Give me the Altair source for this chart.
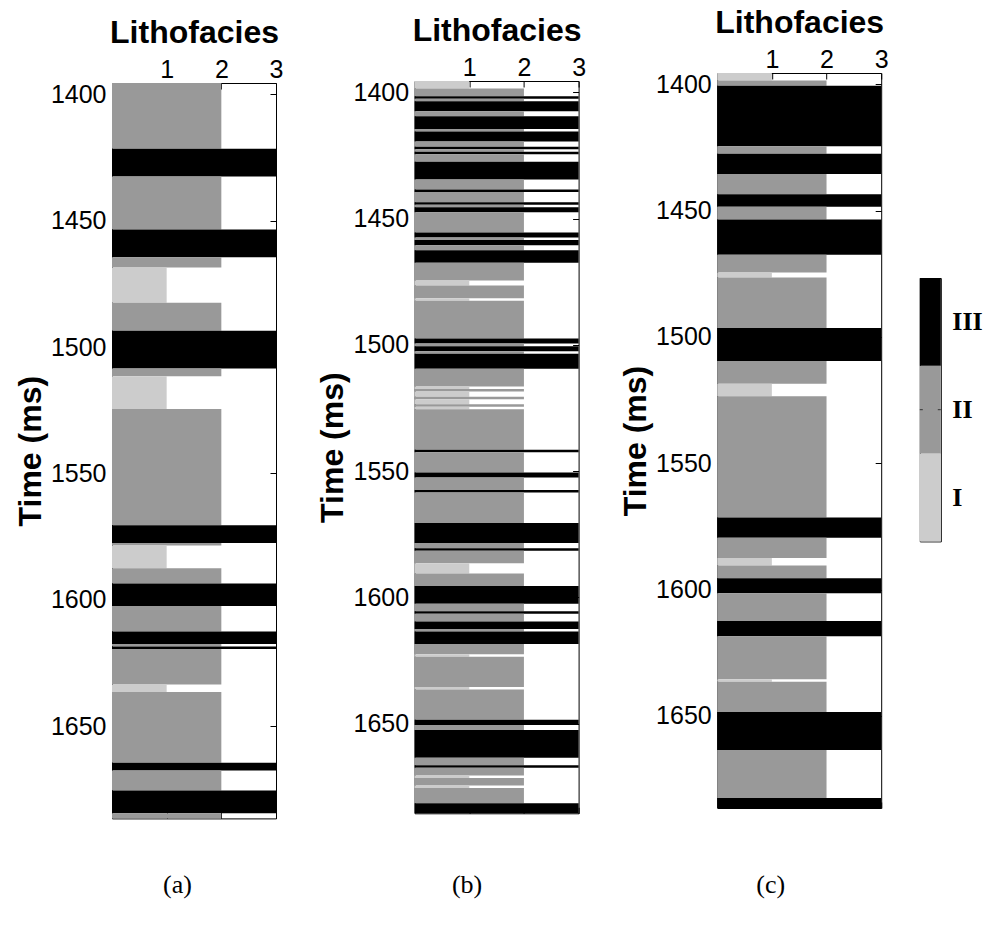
import altair as alt
import pandas as pd

SANS = "Liberation Sans"
SERIF = "Liberation Serif"

# Facies classes and their grey levels
FACIES = [1, 2, 3]
FACIES_NAMES = ["I", "II", "III"]
FACIES_COLORS = ["#cccccc", "#999999", "#000000"]
TIME_TICKS = [1400, 1450, 1500, 1550, 1600, 1650]
FACIES_TICKS = [1, 2, 3]

# Log (a): top of each facies run (ms), facies of the run, base of the log
a_tops = [1395.5, 1421.5, 1432.5, 1453.5, 1464.5, 1468.5, 1482.5, 1493.5, 1508.5,
          1511.5, 1524.5, 1570.5, 1577.5, 1578.5, 1587.5, 1593.5, 1602.5, 1612.5,
          1617.5, 1618.5, 1619.5, 1633.5, 1636.5, 1664.5, 1667.5, 1675.5, 1684.5]
a_facies = [2, 3, 2, 3, 2, 1, 2, 3, 2,
            1, 2, 3, 2, 1, 2, 3, 2, 3,
            2, 3, 2, 1, 2, 3, 2, 3, 2]
a_base = 1686.5

# Log (b)
b_tops = [1395.5, 1398.5, 1401.5, 1402.5, 1403.5, 1407.5, 1409.5, 1414.5, 1415.5,
          1419.5, 1421.5, 1422.5, 1423.5, 1424.5, 1427.5, 1434.5, 1438.5, 1439.5,
          1443.5, 1444.5, 1445.5, 1447.5, 1455.5, 1457.5, 1458.5, 1460.5, 1462.5,
          1467.5, 1474.5, 1476.5, 1481.5, 1482.5, 1497.5, 1499.5, 1500.5, 1502.5,
          1503.5, 1509.5, 1516.5, 1517.5, 1518.5, 1520.5, 1521.5, 1523.5, 1524.5,
          1525.5, 1541.5, 1542.5, 1550.5, 1552.5, 1557.5, 1558.5, 1570.5, 1578.5,
          1580.5, 1581.5, 1586.5, 1590.5, 1595.5, 1602.5, 1605.5, 1606.5, 1609.5,
          1612.5, 1613.5, 1618.5, 1622.5, 1623.5, 1635.5, 1636.5, 1648.5, 1650.5,
          1652.5, 1663.5, 1666.5, 1667.5, 1670.5, 1671.5, 1674.5, 1675.5, 1681.5]
b_facies = [1, 2, 3, 2, 3, 2, 3, 2, 3,
            2, 3, 2, 3, 2, 3, 2, 3, 2,
            3, 2, 3, 2, 3, 2, 3, 2, 3,
            2, 1, 2, 1, 2, 3, 2, 3, 2,
            3, 2, 1, 2, 1, 2, 1, 2, 1,
            2, 3, 2, 3, 2, 3, 2, 3, 2,
            3, 2, 1, 2, 3, 2, 3, 2, 3,
            2, 3, 2, 1, 2, 1, 2, 3, 2,
            3, 2, 3, 2, 1, 2, 1, 2, 3]
b_base = 1685.5

# Log (c)
c_tops = [1395.5, 1398.5, 1400.5, 1424.5, 1427.5, 1435.5, 1443.5, 1448.5, 1453.5,
          1467.5, 1474.5, 1476.5, 1496.5, 1509.5, 1518.5, 1523.5, 1571.5, 1579.5,
          1587.5, 1590.5, 1595.5, 1601.5, 1612.5, 1618.5, 1635.5, 1636.5, 1648.5,
          1663.5, 1682.5]
c_facies = [1, 2, 3, 2, 3, 2, 3, 2, 3,
            2, 1, 2, 3, 2, 1, 2, 3, 2,
            1, 2, 3, 2, 3, 2, 1, 2, 3,
            2, 3]
c_base = 1686.5

CAPTIONS = ["(a)", "(b)", "(c)"]


def log_runs(tops, facies, base):
    """One row per facies run, from its top to the top of the next run."""
    edges = list(tops) + [base]
    return pd.DataFrame({
        "t0": edges[:-1],
        "t1": edges[1:],
        "zero": [0] * len(facies),
        "f": facies,
    })


facies_color = alt.Color(
    "f:N",
    scale=alt.Scale(domain=FACIES, range=FACIES_COLORS),
    legend=None,
)


def log_panel(df, base, height, caption, cap_x, cap_y):
    y_scale = alt.Scale(domain=[1395.5, base], reverse=True, nice=False, zero=False)
    x_scale = alt.Scale(domain=[0, 3], nice=False, zero=False)

    bars = alt.Chart(df).mark_rect().encode(
        x=alt.X("zero:Q", scale=x_scale, axis=alt.Axis(
            orient="top", values=FACIES_TICKS, format="d", offset=-6, tickSize=6,
            tickColor="black", domain=False, grid=False,
            labelFont=SANS, labelFontSize=25, labelColor="black", labelPadding=1,
            labelFlush=False, labelOverlap=False,
            title="Lithofacies", titleFont=SANS, titleFontSize=32,
            titleFontWeight="bold", titleColor="black", titlePadding=8, zindex=0)),
        x2="f:Q",
        y=alt.Y("t0:Q", scale=y_scale, axis=alt.Axis(
            orient="left", values=TIME_TICKS, format="d", offset=-6, tickSize=6,
            tickColor="black", domain=False, grid=False,
            labelFont=SANS, labelFontSize=25, labelColor="black", labelPadding=6,
            labelFlush=False, labelOverlap=False,
            title="Time (ms)", titleFont=SANS, titleFontSize=32,
            titleFontWeight="bold", titleColor="black", titlePadding=3, zindex=0)),
        y2="t1:Q",
        color=facies_color,
    )

    frame = alt.Chart(df).mark_rect(opacity=0).encode(
        x=alt.X("zero:Q", scale=x_scale, axis=alt.Axis(
            orient="bottom", values=FACIES_TICKS, offset=-6, tickSize=6,
            tickColor="black", domain=False, grid=False, labels=False,
            title=caption, titleFont=SERIF, titleFontSize=26,
            titleFontWeight="normal", titleColor="black",
            titleX=cap_x, titleY=cap_y, titleBaseline="middle",
            titleAlign="center", zindex=0)),
        x2="f:Q",
        y=alt.Y("t0:Q", scale=y_scale, axis=alt.Axis(
            orient="right", values=TIME_TICKS, offset=-6, tickSize=6,
            tickColor="black", domain=False, grid=False, labels=False,
            title=None, zindex=0)),
        y2="t1:Q",
    )

    return (
        alt.layer(bars, frame)
        .resolve_axis(x="independent", y="independent")
        .properties(width=164, height=height)
    )


def spacer(w, h):
    return alt.Chart(pd.DataFrame({"v": [0]})).mark_rect(opacity=0).encode(
        x=alt.value(0), x2=alt.value(w), y=alt.value(0), y2=alt.value(h)
    ).properties(width=w, height=h, view=alt.ViewBackground(stroke="transparent"))


panel_a = log_panel(log_runs(a_tops, a_facies, a_base), a_base, 735.4, CAPTIONS[0], 65, 72)
panel_b = log_panel(log_runs(b_tops, b_facies, b_base), b_base, 732.3, CAPTIONS[1], 52, 77.5)
panel_c = log_panel(log_runs(c_tops, c_facies, c_base), c_base, 735.0, CAPTIONS[2], 53, 82)

# Colour key for the three facies
key_df = pd.DataFrame({
    "f": FACIES,
    "lo": [f - 0.5 for f in FACIES],
    "hi": [f + 0.5 for f in FACIES],
    "zero": [0, 0, 0],
    "one": [1, 1, 1],
})
label_expr = " : ".join(
    f"datum.value == {f} ? '{n}'" for f, n in zip(FACIES[:-1], FACIES_NAMES[:-1])
) + f" : '{FACIES_NAMES[-1]}'"

key_y = alt.Scale(domain=[0.5, 3.5], nice=False, zero=False)
key_x = alt.Scale(domain=[0, 1], nice=False)
key_axis = alt.Axis(orient="right", values=FACIES, labelExpr=label_expr,
                    ticks=False, domain=False, grid=False,
                    labelFont=SERIF, labelFontWeight="bold", labelFontSize=26,
                    labelColor="black", labelPadding=11, title=None)

key_bar = alt.Chart(key_df).mark_rect().encode(
    x=alt.X("zero:Q", scale=key_x, axis=None),
    x2="one:Q",
    y=alt.Y("lo:Q", scale=key_y, axis=key_axis),
    y2="hi:Q",
    color=facies_color,
)

# Short inward ticks at the middle class on both edges of the key
mid = key_df[key_df["f"] == 2]
key_tick_l = alt.Chart(mid).mark_rule(color="#333333", strokeWidth=1).encode(
    y=alt.Y("f:Q", scale=key_y, axis=key_axis),
    x=alt.value(0),
    x2=alt.value(3),
)
key_tick_r = alt.Chart(mid).mark_rule(color="#333333", strokeWidth=1).encode(
    y=alt.Y("f:Q", scale=key_y, axis=key_axis),
    x=alt.value(18),
    x2=alt.value(21),
)

colorbar = alt.layer(key_bar, key_tick_l, key_tick_r).properties(width=21, height=263.4)

# Each column starts with an invisible spacer that sets its vertical offset
col_a = alt.vconcat(spacer(172.8, 10.0), panel_a, spacing=0)
col_b = alt.vconcat(spacer(172.8, 7.7), panel_b, spacing=0)
col_c = alt.vconcat(spacer(171.0, 0.3), panel_c, spacing=0)
col_k = alt.vconcat(spacer(21, 272.5), colorbar, spacing=0)

chart = (
    alt.hconcat(col_a, col_b, col_c, col_k, spacing=29.6)
    .properties(padding={"left": 13, "top": 3, "right": 0, "bottom": 4})
    .configure(background="white")
    .configure_view(stroke="black", strokeWidth=1)
)

chart.save("out.html", embed_options={"renderer": "svg", "actions": False})
